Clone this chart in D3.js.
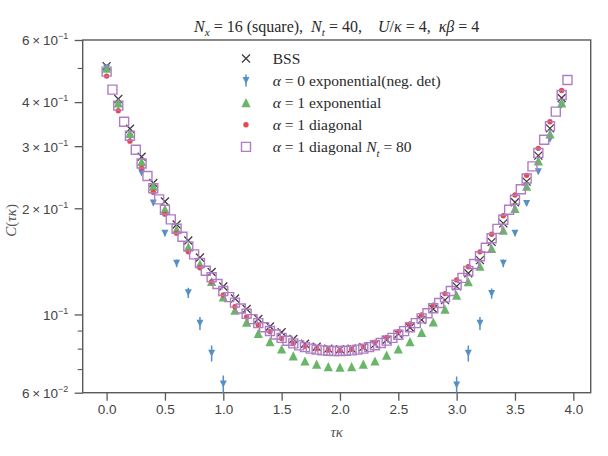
<!DOCTYPE html>
<html>
<head>
<meta charset="utf-8">
<script src="https://cdn.jsdelivr.net/npm/d3@7"></script>
<style>
body { margin: 0; background: #fff; }
svg { display: block; }
</style>
</head>
<body>
<svg id="chart" width="608" height="456"></svg>
<script>
// tau grid, Nt = 40
const tau40 = [0.0, 0.1, 0.2, 0.3, 0.4, 0.5, 0.6, 0.7, 0.8, 0.9,
	1.0, 1.1, 1.2, 1.3, 1.4, 1.5, 1.6, 1.7, 1.8, 1.9,
	2.0, 2.1, 2.2, 2.3, 2.4, 2.5, 2.6, 2.7, 2.8, 2.9,
	3.0, 3.1, 3.2, 3.3, 3.4, 3.5, 3.6, 3.7, 3.8, 3.9]

// tau grid, Nt = 80
const tau80 = [0.00, 0.05, 0.10, 0.15, 0.20, 0.25, 0.30, 0.35, 0.40, 0.45,
	0.50, 0.55, 0.60, 0.65, 0.70, 0.75, 0.80, 0.85, 0.90, 0.95,
	1.00, 1.05, 1.10, 1.15, 1.20, 1.25, 1.30, 1.35, 1.40, 1.45,
	1.50, 1.55, 1.60, 1.65, 1.70, 1.75, 1.80, 1.85, 1.90, 1.95,
	2.00, 2.05, 2.10, 2.15, 2.20, 2.25, 2.30, 2.35, 2.40, 2.45,
	2.50, 2.55, 2.60, 2.65, 2.70, 2.75, 2.80, 2.85, 2.90, 2.95,
	3.00, 3.05, 3.10, 3.15, 3.20, 3.25, 3.30, 3.35, 3.40, 3.45,
	3.50, 3.55, 3.60, 3.65, 3.70, 3.75, 3.80, 3.85, 3.90, 3.95]

const bss = [0.506, 0.408, 0.336, 0.280, 0.236, 0.209, 0.180, 0.162, 0.145, 0.132,
	0.120, 0.111, 0.1036, 0.0971, 0.0924, 0.0890, 0.0852, 0.0826, 0.0810, 0.0800,
	0.0797, 0.0800, 0.0808, 0.0824, 0.0848, 0.0880, 0.0918, 0.0965, 0.1036, 0.1098,
	0.1201, 0.1308, 0.1426, 0.1606, 0.1812, 0.208, 0.238, 0.282, 0.337, 0.411]

// alpha = 0 exponential (neg. det), only the points inside the y range
const tauNeg = [0.0, 0.1, 0.2, 0.3, 0.4, 0.5, 0.6, 0.7, 0.8, 0.9, 1.0,
	3.0, 3.1, 3.2, 3.3, 3.4, 3.5, 3.6, 3.7, 3.8, 3.9]
const expNeg = [0.500, 0.392, 0.318, 0.252, 0.207, 0.170, 0.1396, 0.1152, 0.0944, 0.0776, 0.0635,
	0.0631, 0.0776, 0.0944, 0.1146, 0.1396, 0.170, 0.2065, 0.254, 0.314, 0.392]
const expNegErr = [0.003, 0.003, 0.003, 0.003, 0.0032, 0.0034, 0.0036, 0.0038, 0.004, 0.004, 0.0036,
	0.0036, 0.004, 0.004, 0.0038, 0.0036, 0.0034, 0.0032, 0.003, 0.003, 0.003]

const exp1 = [0.499, 0.398, 0.326, 0.271, 0.231, 0.199, 0.1742, 0.1555, 0.139, 0.124,
	0.1122, 0.1029, 0.0951, 0.0884, 0.0838, 0.0798, 0.0763, 0.0738, 0.0723, 0.0711,
	0.0709, 0.0711, 0.0723, 0.0738, 0.0767, 0.0798, 0.0838, 0.0890, 0.0952, 0.1035,
	0.1135, 0.1238, 0.1371, 0.1539, 0.1734, 0.1999, 0.2309, 0.2725, 0.325, 0.398]

const diag1 = [0.474, 0.378, 0.310, 0.260, 0.222, 0.1925, 0.170, 0.1505, 0.1356, 0.1238,
	0.1135, 0.1052, 0.0984, 0.0934, 0.0894, 0.0855, 0.0828, 0.0812, 0.0800, 0.0792,
	0.0790, 0.0797, 0.0810, 0.0834, 0.0861, 0.0894, 0.0940, 0.0996, 0.1063, 0.1146,
	0.1253, 0.1365, 0.1505, 0.1688, 0.1904, 0.2182, 0.248, 0.2958, 0.352, 0.4313]

const diag80 = [0.488, 0.434, 0.391, 0.352, 0.321, 0.293, 0.268, 0.247, 0.228, 0.212,
	0.198, 0.186, 0.175, 0.166, 0.156, 0.148, 0.140, 0.133, 0.1275, 0.122,
	0.1165, 0.112, 0.108, 0.104, 0.1005, 0.097, 0.0945, 0.092, 0.0898, 0.0877,
	0.0858, 0.0842, 0.0828, 0.0817, 0.0808, 0.0800, 0.0795, 0.0791, 0.0789, 0.0788,
	0.0788, 0.0789, 0.0791, 0.0795, 0.0800, 0.0808, 0.0818, 0.0830, 0.0843, 0.0858,
	0.0876, 0.0897, 0.0920, 0.0945, 0.0975, 0.1008, 0.1041, 0.1078, 0.1118, 0.1165,
	0.1214, 0.127, 0.1328, 0.139, 0.1462, 0.1545, 0.1645, 0.1748, 0.1855, 0.198,
	0.2115, 0.2265, 0.243, 0.263, 0.287, 0.313, 0.342, 0.376, 0.419, 0.462]

const xTicks = [0.0, 0.5, 1.0, 1.5, 2.0, 2.5, 3.0, 3.5, 4.0]
const yMajor = [0.6, 0.4, 0.3, 0.2, 0.1, 0.06]
const yMajorMant = ['6', '4', '3', '2', '', '6']
const yMajorExp = ['\u22121', '\u22121', '\u22121', '\u22121', '\u22121', '\u22122']
const yMinor = [0.5, 0.09, 0.08, 0.07]

const colors = {bss: '#3d3d3d', neg: '#5590c4', exp: '#6ab669', diag: '#e4494e', diag80: '#b07cc2'}

const plot = {left: 82.7, right: 590.7, top: 40, bottom: 392.7}
const serif = '"Liberation Serif", "DejaVu Serif", serif'
const sans = '"Liberation Sans", Arial, sans-serif'
const textColor = '#444'
const spineColor = '#595959'

const svg = d3.select('#chart')

const x = d3.scaleLinear().domain([-0.205, 4.149]).range([plot.left, plot.right])
const y = d3.scaleLog().domain([0.06, 0.6]).range([plot.bottom, plot.top])

svg.append('defs').append('clipPath').attr('id', 'clip')
	.append('rect')
	.attr('x', plot.left).attr('y', plot.top)
	.attr('width', plot.right - plot.left).attr('height', plot.bottom - plot.top)

// writes math-ish text made of parts {t, it, sub}
function rich(sel, parts, size) {
	let shift = 0
	parts.forEach(p => {
		const ts = sel.append('tspan').text(p.t)
		if (p.it) ts.attr('font-style', 'italic')
		let want = 0
		if (p.sub) { want = size * 0.3; ts.attr('font-size', size * 0.7) }
		if (want !== shift) { ts.attr('dy', want - shift); shift = want }
	})
}

// axes
const xAxis = d3.axisBottom(x).tickValues(xTicks).tickSize(8).tickPadding(4)
	.tickFormat(d3.format('.1f'))
const gx = svg.append('g').attr('transform', `translate(0,${plot.bottom})`).call(xAxis)
gx.select('.domain').remove()
gx.selectAll('line').attr('stroke', spineColor).attr('stroke-width', 1.3)
gx.selectAll('text').attr('fill', textColor).attr('font-family', sans).attr('font-size', 13.5)

const gyMinor = svg.append('g').attr('transform', `translate(${plot.left},0)`)
	.call(d3.axisLeft(y).tickValues(yMinor).tickSize(5).tickFormat(''))
gyMinor.select('.domain').remove()
gyMinor.selectAll('line').attr('stroke', spineColor).attr('stroke-width', 1.1)

const gy = svg.append('g').attr('transform', `translate(${plot.left},0)`)
	.call(d3.axisLeft(y).tickValues(yMajor).tickSize(8).tickPadding(14).tickFormat(''))
gy.select('.domain').remove()
gy.selectAll('line').attr('stroke', spineColor).attr('stroke-width', 1.3)
gy.selectAll('.tick text').each(function (d, i) {
	const t = d3.select(this)
		.attr('fill', textColor).attr('font-family', sans).attr('font-size', 13.5)
		.attr('text-anchor', 'end').attr('x', -14.5).attr('dy', '0.36em')
	t.text(null)
	t.append('tspan').text(yMajorMant[i] ? yMajorMant[i] + '\u2009\u00d7\u200910' : '10')
	t.append('tspan').attr('font-size', 9).attr('dy', -6).text(yMajorExp[i])
})

svg.append('rect')
	.attr('x', plot.left).attr('y', plot.top)
	.attr('width', plot.right - plot.left).attr('height', plot.bottom - plot.top)
	.attr('fill', 'none').attr('stroke', spineColor).attr('stroke-width', 1.4)

// marker shapes
const triUp = s => `M0,${-s}L${-s},${s}L${s},${s}Z`
const triDown = s => `M0,${s}L${-s},${-s}L${s},${-s}Z`
const cross = s => `M${-s},${-s}L${s},${s}M${-s},${s}L${s},${-s}`
const square = s => `M${-s},${-s}H${s}V${s}H${-s}Z`

const marks = svg.append('g').attr('clip-path', 'url(#clip)')

marks.append('g').selectAll('path').data(tau40).join('path')
	.attr('transform', (d, i) => `translate(${x(d)},${y(bss[i])})`)
	.attr('d', cross(4)).attr('fill', 'none')
	.attr('stroke', colors.bss).attr('stroke-width', 1.3)

const neg = marks.append('g')
neg.selectAll('line').data(tauNeg).join('line')
	.attr('x1', d => x(d)).attr('x2', d => x(d))
	.attr('y1', (d, i) => y(expNeg[i] - expNegErr[i]))
	.attr('y2', (d, i) => y(expNeg[i] + expNegErr[i]))
	.attr('stroke', colors.neg).attr('stroke-width', 1.5)
neg.selectAll('path').data(tauNeg).join('path')
	.attr('transform', (d, i) => `translate(${x(d)},${y(expNeg[i])})`)
	.attr('d', triDown(3.5)).attr('fill', colors.neg)

marks.append('g').selectAll('path').data(tau40).join('path')
	.attr('transform', (d, i) => `translate(${x(d)},${y(exp1[i])})`)
	.attr('d', triUp(4.6)).attr('fill', colors.exp)

marks.append('g').selectAll('circle').data(tau40).join('circle')
	.attr('cx', d => x(d)).attr('cy', (d, i) => y(diag1[i]))
	.attr('r', 2.7).attr('fill', colors.diag)

marks.append('g').selectAll('path').data(tau80).join('path')
	.attr('transform', (d, i) => `translate(${x(d)},${y(diag80[i])})`)
	.attr('d', square(4.5)).attr('fill', 'none')
	.attr('stroke', colors.diag80).attr('stroke-width', 1.4)

// legend
const legendRows = [
	{kind: 'bss', parts: [{t: 'BSS'}]},
	{kind: 'neg', parts: [{t: '\u03b1', it: true}, {t: ' = 0 exponential(neg. det)'}]},
	{kind: 'exp', parts: [{t: '\u03b1', it: true}, {t: ' = 1 exponential'}]},
	{kind: 'diag', parts: [{t: '\u03b1', it: true}, {t: ' = 1 diagonal'}]},
	{kind: 'diag80', parts: [{t: '\u03b1', it: true}, {t: ' = 1 diagonal '}, {t: 'N', it: true}, {t: 't', it: true, sub: true}, {t: ' = 80'}]}
]
const legend = svg.append('g')
legendRows.forEach((r, i) => {
	const ly = 58.5 + i * 22.1
	const g = legend.append('g').attr('transform', `translate(246,${ly})`)
	if (r.kind === 'bss') g.append('path').attr('d', cross(4)).attr('stroke', colors.bss).attr('stroke-width', 1.3)
	if (r.kind === 'neg') {
		g.append('line').attr('y1', -6).attr('y2', 6).attr('stroke', colors.neg).attr('stroke-width', 1.5)
		g.append('path').attr('d', triDown(3.5)).attr('fill', colors.neg)
	}
	if (r.kind === 'exp') g.append('path').attr('d', triUp(4.6)).attr('fill', colors.exp)
	if (r.kind === 'diag') g.append('circle').attr('r', 2.7).attr('fill', colors.diag)
	if (r.kind === 'diag80') g.append('path').attr('d', square(4.5)).attr('fill', 'none')
		.attr('stroke', colors.diag80).attr('stroke-width', 1.4)
	const t = legend.append('text').attr('x', 272.7).attr('y', ly + 5)
		.attr('font-family', serif).attr('font-size', 15.5).attr('fill', '#2a2a2a')
	rich(t, r.parts, 15.5)
})

// title
const title = svg.append('text').attr('x', (plot.left + plot.right) / 2).attr('y', 31.5)
	.attr('text-anchor', 'middle').attr('font-family', serif).attr('font-size', 16)
	.attr('fill', '#2a2a2a').attr('xml:space', 'preserve')
rich(title, [
	{t: 'N', it: true}, {t: 'x', it: true, sub: true}, {t: ' = 16 (square),  '},
	{t: 'N', it: true}, {t: 't', it: true, sub: true}, {t: ' = 40,    '},
	{t: 'U', it: true}, {t: '/'}, {t: '\u03ba', it: true}, {t: ' = 4,  '},
	{t: '\u03ba\u03b2', it: true}, {t: ' = 4'}
], 16)

// axis labels
const yl = svg.append('text')
	.attr('transform', `translate(16,${(plot.top + plot.bottom) / 2 + 4}) rotate(-90)`)
	.attr('text-anchor', 'middle').attr('font-family', serif).attr('font-size', 15).attr('fill', '#555')
rich(yl, [{t: 'C', it: true}, {t: '('}, {t: '\u03c4\u03ba', it: true}, {t: ')'}], 15)

svg.append('text').attr('x', (plot.left + plot.right) / 2).attr('y', 437)
	.attr('text-anchor', 'middle').attr('font-family', serif).attr('font-size', 15)
	.attr('font-style', 'italic').attr('fill', '#555').text('\u03c4\u03ba')
</script>
</body>
</html>
